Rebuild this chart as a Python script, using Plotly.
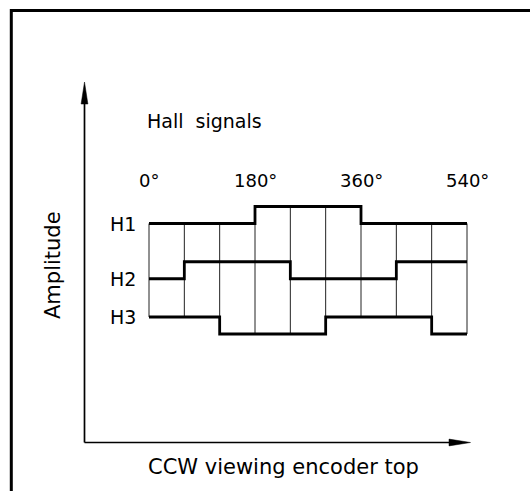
import plotly.graph_objects as go

# ---- data ----
angles = [0, 60, 120, 180, 240, 300, 360, 420, 480, 540]
tick_angles = [0, 180, 360, 540]
tick_labels = ["0°", "180°", "360°", "540°"]
signal_names = ["H1", "H2", "H3"]
h1_states = [0, 0, 0, 1, 1, 1, 0, 0, 0]
h2_states = [0, 1, 1, 1, 0, 0, 0, 1, 1]
h3_states = [1, 1, 0, 0, 0, 1, 1, 1, 0]
title_text = "Hall  signals"
x_label = "CCW viewing encoder top"
y_label = "Amplitude"

# ---- layout constants ----
W, H = 530, 491
X0_PX, X540_PX = 149, 467          # pixel positions of 0° and 540°
PX_PER_DEG = (X540_PX - X0_PX) / 540.0
BASE_PX = 334                        # pixel of H3 low level
PX_PER_UNIT = 17.0
offsets = [6.5, 3.25, 0.0]
FONT = "DejaVu Sans"


def px(x):
    return x / W


def py(y):
    return 1 - y / H


x_range = [(0 - X0_PX) / PX_PER_DEG, (W - X0_PX) / PX_PER_DEG]
y_range = [(BASE_PX - H) / PX_PER_UNIT, BASE_PX / PX_PER_UNIT]

fig = go.Figure()

states = [h1_states, h2_states, h3_states]

# thin vertical grid lines at every 60° boundary
gx, gy = [], []
n = len(h1_states)
for k, a in enumerate(angles):
    idx = [i for i in (k - 1, k) if 0 <= i < n]
    top = offsets[0] + max(h1_states[i] for i in idx)
    bot = offsets[2] + min(h3_states[i] for i in idx)
    gx += [a, a, None]
    gy += [top, bot, None]
fig.add_trace(go.Scatter(x=gx, y=gy, mode="lines",
                         line=dict(color="#222222", width=1),
                         hoverinfo="skip", showlegend=False))

# signal traces
for name, st, off in zip(signal_names, states, offsets):
    ys = [off + s for s in st] + [off + st[-1]]
    fig.add_trace(go.Scatter(x=angles, y=ys, mode="lines", name=name,
                             line=dict(color="black", width=2.8, shape="hv"),
                             showlegend=False))

annotations = []
# signal names
for name, st, off in zip(signal_names, states, offsets):
    annotations.append(dict(x=angles[0], y=off + st[0], xref="x", yref="y",
                            text=name, showarrow=False, xanchor="right",
                            yanchor="middle", xshift=-11,
                            font=dict(family=FONT, size=19, color="black")))
# degree labels
for a, t in zip(tick_angles, tick_labels):
    annotations.append(dict(x=a, y=py(180), xref="x", yref="paper",
                            text=t, showarrow=False, xanchor="center",
                            yanchor="middle",
                            font=dict(family=FONT, size=18, color="black")))
annotations.append(dict(x=px(145), y=py(121), xref="paper", yref="paper",
                        text=title_text, showarrow=False, xanchor="left",
                        yanchor="middle",
                        font=dict(family=FONT, size=19, color="black")))
annotations.append(dict(x=px(283), y=py(467), xref="paper", yref="paper",
                        text=x_label, showarrow=False, xanchor="center",
                        yanchor="middle",
                        font=dict(family=FONT, size=21, color="black")))
annotations.append(dict(x=px(53), y=py(265), xref="paper", yref="paper",
                        text=y_label, showarrow=False, textangle=-90,
                        xanchor="center", yanchor="middle",
                        font=dict(family=FONT, size=21, color="black")))

shapes = []
# frame (top and left)
shapes.append(dict(type="path", xref="paper", yref="paper",
                   path=f"M {px(11.3)},{py(495)} L {px(11.3)},{py(10.5)} L {px(535)},{py(10.5)}",
                   line=dict(color="black", width=3)))
# axes
AX_X, AX_Y = 84.5, 442.5
shapes.append(dict(type="line", xref="paper", yref="paper",
                   x0=px(AX_X), y0=py(AX_Y), x1=px(AX_X), y1=py(100),
                   line=dict(color="black", width=1.7)))
shapes.append(dict(type="line", xref="paper", yref="paper",
                   x0=px(AX_X), y0=py(AX_Y), x1=px(452), y1=py(AX_Y),
                   line=dict(color="black", width=1.7)))
# arrowheads
shapes.append(dict(type="path", xref="paper", yref="paper",
                   path=(f"M {px(AX_X)},{py(82)} L {px(AX_X - 3.4)},{py(104)} "
                         f"L {px(AX_X + 3.4)},{py(104)} Z"),
                   fillcolor="black", line=dict(color="black", width=0.5)))
shapes.append(dict(type="path", xref="paper", yref="paper",
                   path=(f"M {px(470.5)},{py(AX_Y)} L {px(449)},{py(AX_Y - 3.4)} "
                         f"L {px(449)},{py(AX_Y + 3.4)} Z"),
                   fillcolor="black", line=dict(color="black", width=0.5)))

fig.update_layout(
    width=W, height=H,
    margin=dict(l=0, r=0, t=0, b=0),
    paper_bgcolor="white", plot_bgcolor="white",
    xaxis=dict(range=x_range, visible=False, fixedrange=True),
    yaxis=dict(range=y_range, visible=False, fixedrange=True),
    annotations=annotations,
    shapes=shapes,
    showlegend=False,
)

fig.write_html("out.html", config={"displayModeBar": False},
               post_script="document.body.style.margin='0';document.body.style.overflow='hidden';")
